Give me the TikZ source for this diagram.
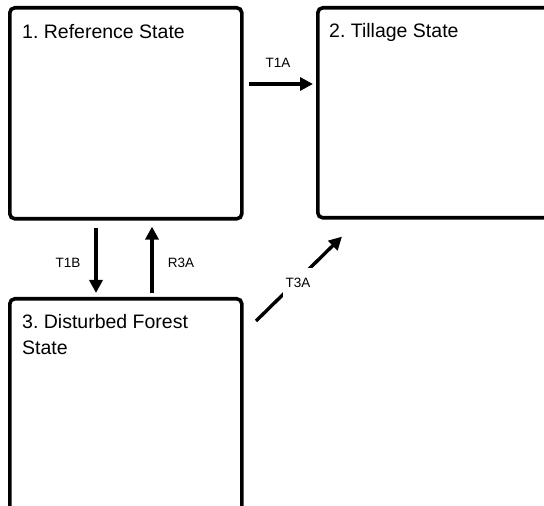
\documentclass[tikz,border=0pt]{standalone}
\usepackage{fontspec}
\setmainfont{Liberation Sans}
\usetikzlibrary{arrows.meta}
\begin{document}
\frenchspacing
\begin{tikzpicture}[x=1pt,y=1pt,
  statebox/.style={draw=black,line width=3.6pt,rounded corners=5pt,fill=none},
  title/.style={anchor=base west,inner sep=0pt,font=\fontsize{19.5}{26}\selectfont,align=left},
  arr/.style={line width=3.4pt,-{Triangle[length=13pt,width=13pt]}},
  lab/.style={font=\fontsize{13.5}{15}\selectfont,inner sep=1pt}]
\useasboundingbox (0,0) rectangle (544,506);
\clip (0,0) rectangle (544,506);
% boxes
\node[statebox,minimum width=232pt,minimum height=211pt,anchor=north west] (b1) at (8,500) {};
\node[statebox,minimum width=260pt,minimum height=210pt,anchor=north west] (b2) at (316,500) {};
\node[statebox,minimum width=232pt,minimum height=230pt,anchor=north west] (b3) at (8,209) {};
% titles
\node[title] (t1) at (22,467) {1. Reference State};
\node[title] (t2) at (329,468) {2. Tillage State};
\node[title] (t3) at (22,151) {3. Disturbed Forest\\State};
% arrows
\coordinate (a1s) at ([xshift=5pt,yshift=-78pt]b1.north east);
\coordinate (a1e) at ([xshift=-3pt,yshift=-78pt]b2.north west);
\draw[arr] (a1s) -- (a1e);
\node[lab] (l1) at (278,443) {T1A};

\coordinate (a2s) at ([xshift=88pt,yshift=-7pt]b1.south west);
\coordinate (a2e) at ([xshift=88pt,yshift=4pt]b3.north west);
\draw[arr] (a2s) -- (a2e);
\node[lab] (l2) at (68,243) {T1B};

\coordinate (a3s) at ([xshift=144pt,yshift=4pt]b3.north west);
\coordinate (a3e) at ([xshift=144pt,yshift=-6pt]b1.south west);
\draw[arr] (a3s) -- (a3e);
\node[lab] (l3) at (181,243) {R3A};

\coordinate (a4s) at (256,185);
\coordinate (a4e) at ([xshift=26pt,yshift=-17pt]b2.south west);
\draw[arr] (a4s) -- (a4e);
\node[lab,fill=white,minimum width=30pt,minimum height=30pt] (l4) at (298,223) {T3A};
\end{tikzpicture}
\end{document}
